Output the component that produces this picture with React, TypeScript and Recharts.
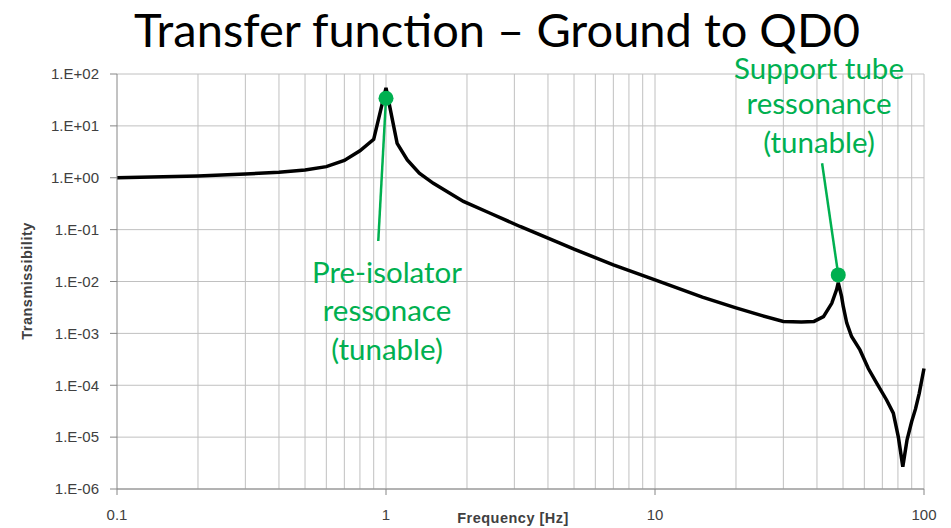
import React from 'react';
import { ComposedChart, Line, XAxis, YAxis, CartesianGrid, ReferenceLine, ReferenceDot } from 'recharts';

// frequency [Hz] and transmissibility
const freqHz = [
  0.1, 0.2, 0.3, 0.4, 0.5, 0.6, 0.7, 0.8, 0.9, 1.0, 1.1, 1.2, 1.33, 1.5, 1.94, 2.44, 3.15, 4.43, 5, 7,
  10, 15, 20, 25, 30, 35, 39, 42.3, 45.4, 47.3, 48, 49.4, 50.1, 51.6, 53.8, 57.8, 62.1, 66.7, 72.6,
  76.9, 80.3, 83.4, 86.5, 90, 93, 96, 100,
];
const transmissibility = [
  1.0, 1.08, 1.18, 1.28, 1.41, 1.64, 2.15, 3.3, 5.5, 54, 4.6, 2.2, 1.22, 0.78, 0.35, 0.207, 0.115, 0.055, 0.042, 0.021,
  0.0107, 0.005, 0.0031, 0.0022, 0.0017, 0.00165, 0.0017, 0.0021, 0.0038, 0.0069, 0.0095, 0.0051, 0.0033, 0.0016, 0.00087, 0.00048, 0.00021, 0.00011, 0.000052,
  0.000029, 0.00001, 0.0000027, 0.0000089, 0.00002, 0.000035, 0.00007, 0.00021,
];

const xTicks = [0.1, 1, 10, 100];
const yTicks = [1e-6, 1e-5, 1e-4, 1e-3, 1e-2, 1e-1, 1, 10, 100];
const gridMultiples = [2, 3, 4, 5, 6, 7, 8, 9];

// annotation markers (data coords)
const preIsolatorDot = { x: 1.0, y: 34 };
const preIsolatorLineEnd = { x: 0.936, y: 0.0605 };
const supportDot = { x: 48, y: 0.0134 };
const supportLineEnd = { x: 41.8, y: 1.9 };

const data = freqHz.map((f, i) => ({ f, t: transmissibility[i] }));

const verticalGrid = [
  ...[0.1, 1, 10].flatMap((d) => gridMultiples.map((m) => +(m * d).toPrecision(3))),
  1, 10, 100,
];

const formatY = (v: number) => {
  const e = Math.round(Math.log10(v));
  const sign = e < 0 ? '-' : '+';
  return `1.E${sign}${String(Math.abs(e)).padStart(2, '0')}`;
};

const GREEN = '#00B050';
const labelFont = '"Liberation Sans", Arial, sans-serif';
const slideFont = 'Lato, "Open Sans", sans-serif';

export default function App() {
  return (
    <div style={{ position: 'absolute', left: 0, top: 0, width: 951, height: 528, background: '#fff' }}>
      <ComposedChart
        width={951}
        height={528}
        data={data}
        margin={{ top: 74, right: 27, left: 0, bottom: 0 }}
      >
        <CartesianGrid vertical={false} stroke="#c0c0c0" strokeWidth={1} />
        {verticalGrid.map((v) => (
          <ReferenceLine key={v} x={v} stroke="#c0c0c0" strokeWidth={1} />
        ))}
        <XAxis
          dataKey="f"
          type="number"
          scale="log"
          domain={[0.1, 100]}
          ticks={xTicks}
          height={39}
          tickSize={6}
          tickMargin={14}
          tickFormatter={(v: number) => String(v)}
          stroke="#868686"
          tick={{ fill: '#404040', fontSize: 15, fontFamily: labelFont }}
        />
        <YAxis
          type="number"
          scale="log"
          domain={[1e-6, 100]}
          ticks={yTicks}
          width={117}
          tickSize={7}
          tickMargin={11}
          tickFormatter={formatY}
          stroke="#868686"
          tick={{ fill: '#404040', fontSize: 15, fontFamily: labelFont }}
        />
        <Line
          dataKey="t"
          type="linear"
          stroke="#000"
          strokeWidth={3.5}
          dot={false}
          isAnimationActive={false}
        />
        <ReferenceLine
          segment={[preIsolatorDot, preIsolatorLineEnd]}
          stroke={GREEN}
          strokeWidth={2.5}
        />
        <ReferenceLine
          segment={[supportDot, supportLineEnd]}
          stroke={GREEN}
          strokeWidth={2.5}
        />
        <ReferenceDot x={preIsolatorDot.x} y={preIsolatorDot.y} r={7.5} fill={GREEN} stroke="none" />
        <ReferenceDot x={supportDot.x} y={supportDot.y} r={7.5} fill={GREEN} stroke="none" />
      </ComposedChart>
      <svg width={951} height={528} style={{ position: 'absolute', left: 0, top: 0, pointerEvents: 'none' }}>
        <text x={497} y={47} textAnchor="middle" fontFamily={slideFont} fontSize={47} fill="#000">
          Transfer function – Ground to QD0
        </text>
        <g fontFamily={slideFont} fontSize={29.5} fill={GREEN} textAnchor="middle">
          <text x={387} y={283}>Pre-isolator</text>
          <text x={387} y={321}>ressonace</text>
          <text x={387} y={360}>(tunable)</text>
          <text x={819} y={79}>Support tube</text>
          <text x={819} y={114}>ressonance</text>
          <text x={819} y={153}>(tunable)</text>
        </g>
        <text x={513} y={523} textAnchor="middle" fontFamily={labelFont} fontSize={14.5} letterSpacing={0.5} fontWeight="bold" fill="#404040">
          Frequency [Hz]
        </text>
        <text
          x={0}
          y={0}
          transform="translate(32 281) rotate(-90)"
          textAnchor="middle"
          fontFamily={labelFont}
          fontSize={14.5}
          letterSpacing={0.5}
          fontWeight="bold"
          fill="#404040"
        >
          Transmissibility
        </text>
      </svg>
    </div>
  );
}
